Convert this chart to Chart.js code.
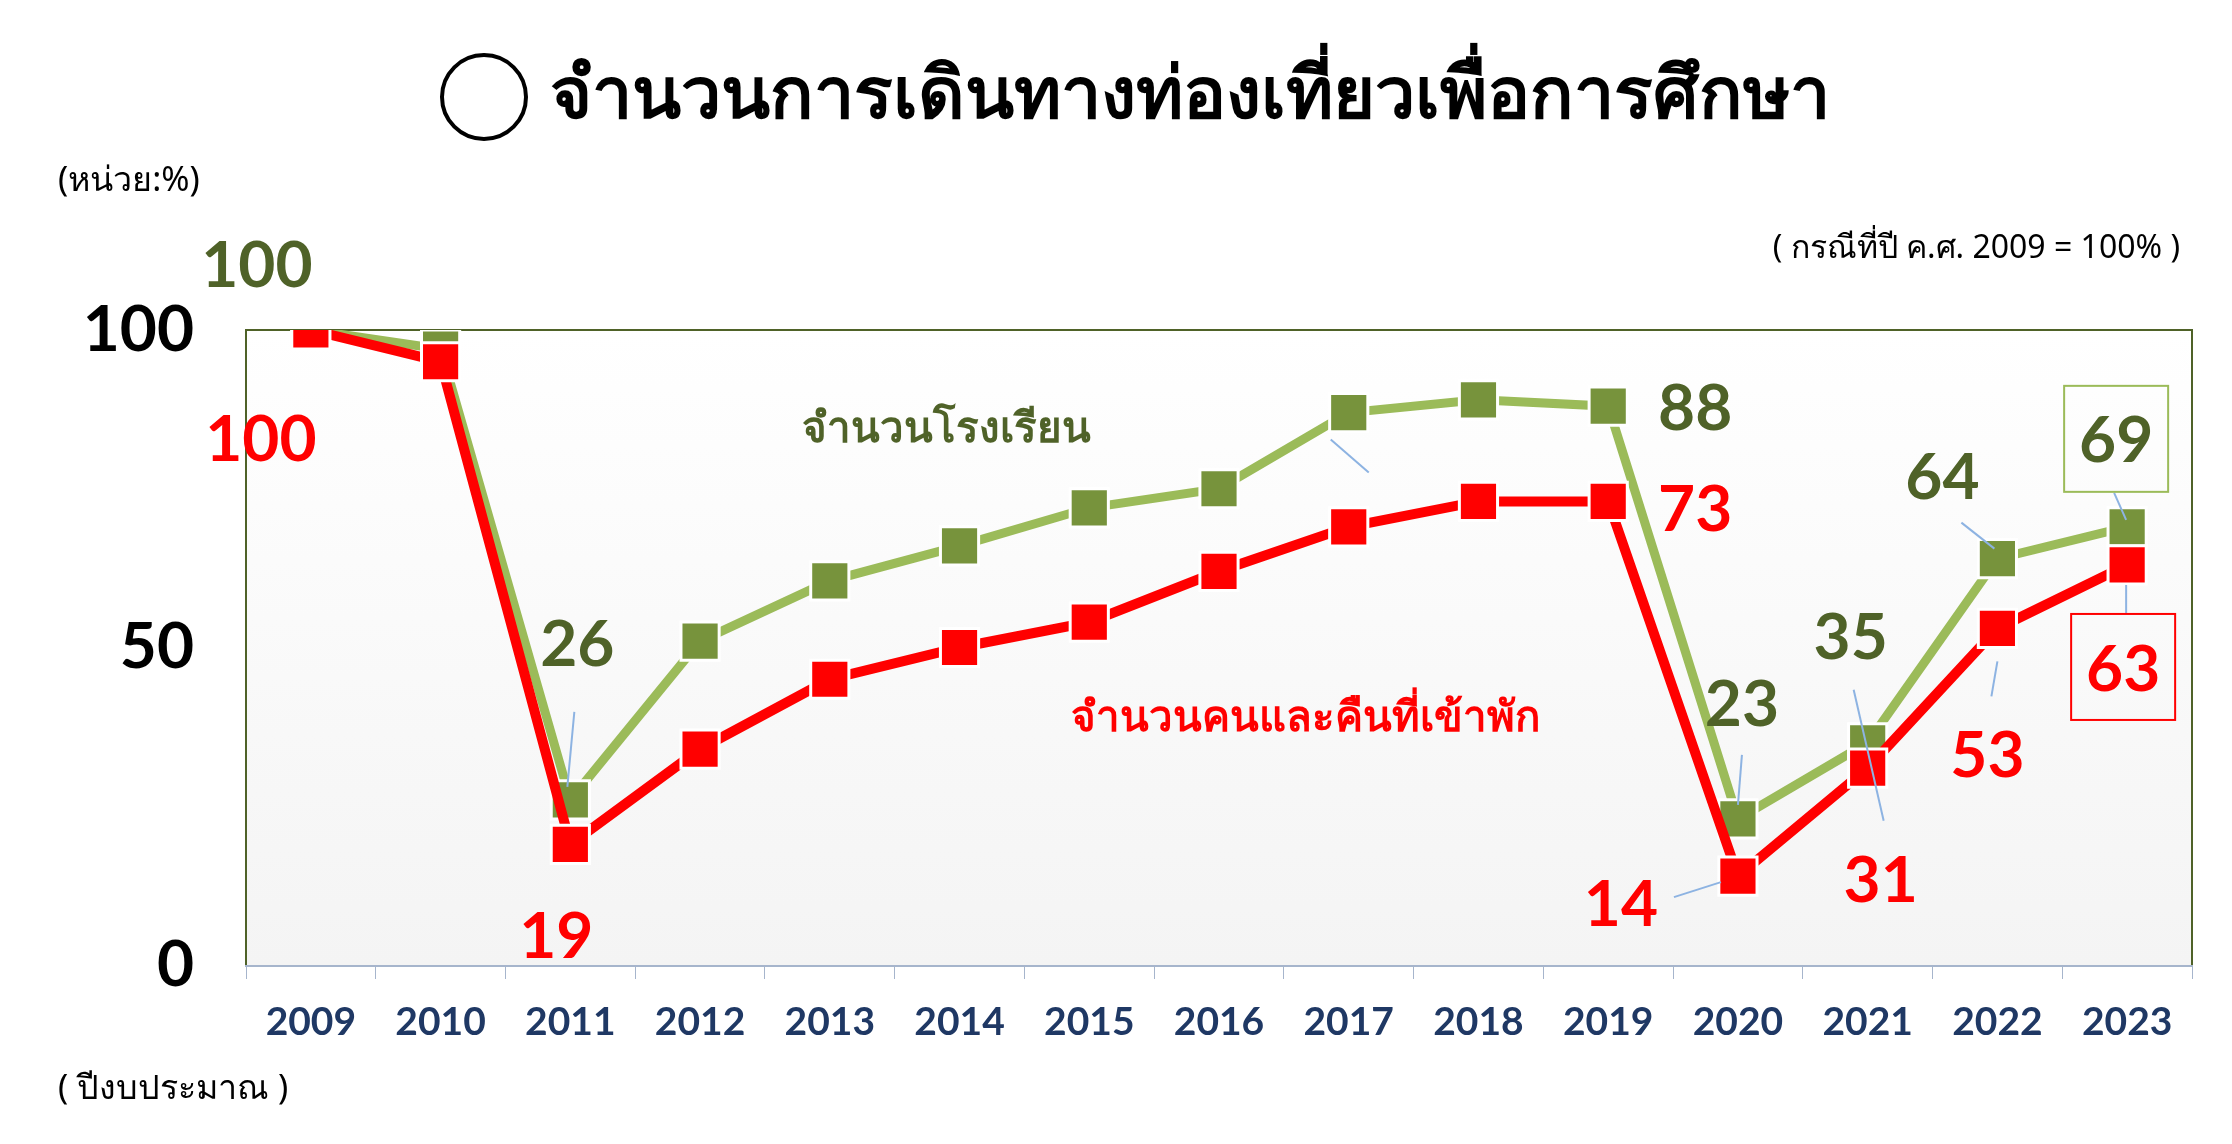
<!DOCTYPE html>
<html><head><meta charset="utf-8">
<script src="https://cdn.jsdelivr.net/npm/chart.js@4"></script>
<style>html,body{margin:0;padding:0;background:#fff}canvas{display:block}</style>
</head><body>
<div style="width:2232px;height:1144px"><canvas id="c" width="2232" height="1144"></canvas></div>
<script>
const years=['2009','2010','2011','2012','2013','2014','2015','2016','2017','2018','2019','2020','2021','2022','2023'];
const schools=[100,97,26,51,60.5,66,72,75,87,89,88,23,35,64,69];
const stays=[100,95,19,34,45,50,54,62,69,73,73,14,31,53,63];
const yTicks=[0,50,100];
const schoolsName='จำนวนโรงเรียน';
const staysName='จำนวนคนและคืนที่เข้าพัก';
const gLab={0:[-54,-67],2:[7,-158],10:[87,0],11:[4,-117],12:[-17,-107],13:[-55,-83],14:[-11,-88,1]};
const rLab={0:[-50,107],2:[-14,90],10:[87,6],11:[-117,26],12:[13,110],13:[-10,125],14:[-4,102,1]};
const gLead={2:[4,-88,-3,-13],11:[4,-64,0,-14],12:[-14,-53,16,78],13:[-36,-36,-3,-10],14:[-13,-34,-1,-7],8:[-18,27,20,60]};
const rLead={11:[-64,21,-17,6],13:[0,33,-6,68],14:[-1,20,-1,48]};
const GREEN='#4f6228', LG='#9bbb59', RED='#ff0000';
const NUMF='"Lato","Open Sans",sans-serif', TH='"Noto Sans","Noto Sans CJK SC",sans-serif';
const deco={id:'deco',
 beforeDatasetsDraw(ch){const a=ch.chartArea,c=ch.ctx;c.save();
  const g=c.createLinearGradient(0,a.top,0,a.bottom);g.addColorStop(0,'#ffffff');g.addColorStop(1,'#f4f4f4');
  c.fillStyle=g;c.fillRect(a.left,a.top,a.right-a.left,a.bottom-a.top);
  c.strokeStyle=GREEN;c.lineWidth=2;c.beginPath();c.moveTo(a.left,a.bottom);c.lineTo(a.left,a.top);c.lineTo(a.right,a.top);c.lineTo(a.right,a.bottom);c.stroke();
  c.restore();},
 afterDatasetsDraw(ch){const c=ch.ctx;c.save();
  const mg=ch.getDatasetMeta(1).data, mr=ch.getDatasetMeta(0).data;
  c.strokeStyle='#8db3e2';c.lineWidth=2;
  const lead=(m,L)=>{for(const k in L){const p=m[k],v=L[k];c.beginPath();c.moveTo(p.x+v[0],p.y+v[1]);c.lineTo(p.x+v[2],p.y+v[3]);c.stroke();}};
  lead(mg,gLead);lead(mr,rLead);
  c.font='bold 64px '+NUMF;c.textAlign='center';c.textBaseline='middle';
  const lab=(m,L,vals,col)=>{for(const k in L){const p=m[k],v=L[k];const x=p.x+v[0],y=p.y+v[1];
    if(v[2]){c.lineWidth=2;c.strokeStyle=col===RED?RED:LG;c.strokeRect(x-52,y-53,104,106);}
    c.fillStyle=col;c.fillText(String(Math.round(vals[k])),x,y+3);}};
  lab(mg,gLab,schools,GREEN);lab(mr,rLab,stays,RED);
  const xs=ch.scales.x,ys=ch.scales.y;
  c.font='bold 42px '+TH;
  c.fillStyle=GREEN;c.fillText(schoolsName,xs.getPixelForValue(4.9),ys.getPixelForValue(84.3));
  c.fillStyle=RED;c.fillText(staysName,xs.getPixelForValue(7.67),ys.getPixelForValue(38.8));
  c.fillStyle='#000';c.lineWidth=4;c.strokeStyle='#000';
  c.beginPath();c.arc(484,97,42,0,Math.PI*2);c.stroke();
  c.textAlign='left';c.font='bold 72px '+TH;c.fillText('จำนวนการเดินทางท่องเที่ยวเพื่อการศึกษา',550,97);
  c.font='34px '+TH;c.fillText('(หน่วย:%)',58,181);c.fillText('( ปีงบประมาณ )',58,1089);
  c.textAlign='right';c.font='32px '+TH;c.fillText('( กรณีที่ปี ค.ศ. 2009 = 100% )',2180,249);
  c.restore();}};
new Chart(document.getElementById('c'),{type:'line',
 data:{labels:years,datasets:[
  {label:staysName,data:stays,borderColor:RED,borderWidth:10,pointStyle:'rect',pointRadius:27,pointBackgroundColor:RED,pointBorderColor:'#fff',pointBorderWidth:3,tension:0},
  {label:schoolsName,data:schools,borderColor:LG,borderWidth:9,pointStyle:'rect',pointRadius:27,pointBackgroundColor:'#77933c',pointBorderColor:'#fff',pointBorderWidth:3,tension:0}]},
 options:{responsive:false,animation:false,devicePixelRatio:1,
  layout:{padding:{top:330,right:40,left:0,bottom:0}},
  plugins:{legend:{display:false},tooltip:{enabled:false}},
  scales:{
   x:{offset:true,grid:{display:true,drawOnChartArea:false,color:'#a6b5cc',tickLength:14,offset:true},border:{color:'#a6b5cc',width:3},
      ticks:{color:'#1f3864',font:{family:NUMF,size:39,weight:'bold'},padding:20,maxRotation:0},
      afterFit(s){s.height=179;}},
   y:{min:0,max:100,afterBuildTicks(s){s.ticks=yTicks.map(v=>({value:v}));},grid:{display:false},border:{display:false},
      ticks:{color:'#000',font:{family:NUMF,size:64,weight:'bold'},padding:44},
      afterFit(s){s.width=246;}}}},
 plugins:[deco]});
</script></body></html>
